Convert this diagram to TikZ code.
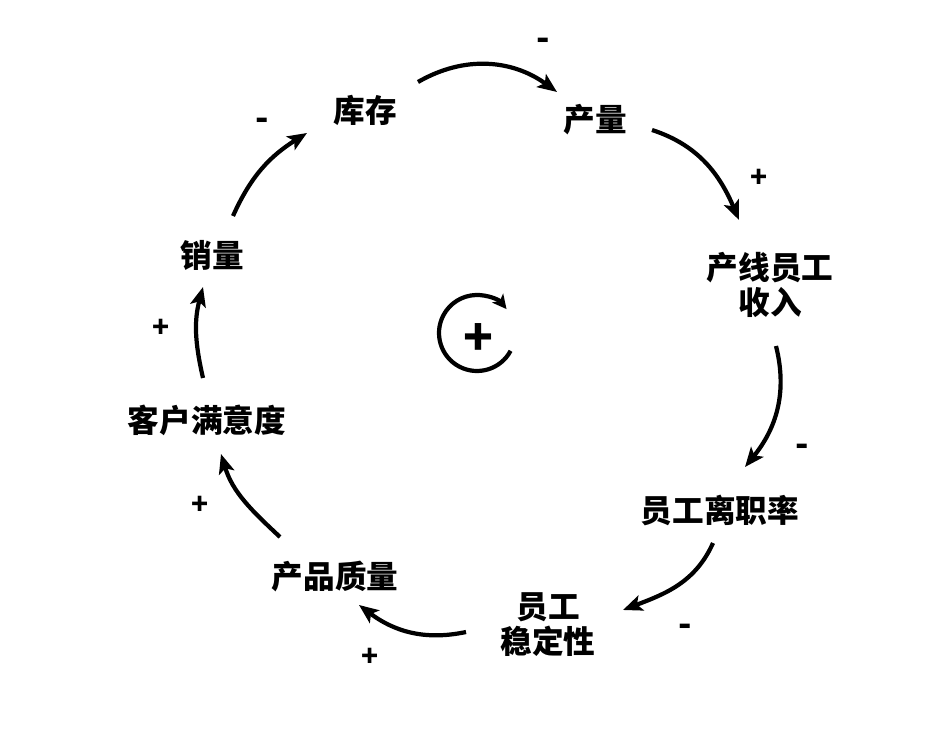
\documentclass[tikz,border=0pt]{standalone}
\usepackage{fontspec}
\setmainfont{Noto Sans CJK SC}
\usetikzlibrary{arrows.meta, calc}

\begin{document}
\begin{tikzpicture}[font=\fontsize{18}{20}\selectfont\bfseries,
  lbl/.style={align=center, inner sep=2pt},
  link/.style={line width=2.4pt, -{Stealth[length=11pt, width=9pt, inset=2.5pt]}},
  possign/.style={font=\fontsize{16}{16}\selectfont\bfseries, inner sep=0pt},
  negsign/.style={font=\fontsize{20}{20}\selectfont\bfseries, inner sep=0pt}]
  \useasboundingbox (0,0) rectangle (18.92,14.64);

  % loop variables
  \node[lbl] (kc) at (7.30, 12.44) {库存};
  \node[lbl] (cl) at (11.90, 12.24) {产量};
  \node[lbl] (sr) at (15.40, 8.94) {产线员工\\收入};
  \node[lbl] (lz) at (14.40, 4.44) {员工离职率};
  \node[lbl] (wd) at (10.96, 2.14) {员工\\稳定性};
  \node[lbl] (zl) at (6.70, 3.10) {产品质量};
  \node[lbl] (my) at (4.14, 6.24) {客户满意度};
  \node[lbl] (xl) at (4.24, 9.54) {销量};

  % causal links
  \draw[link] ($(kc)+(1.06,0.56)$) to[out=30, in=144] ($(cl)+(-0.76,0.56)$);
  \draw[link] ($(cl)+(1.14,-0.20)$) to[out=-18, in=113] ($(sr)+(-0.62,1.30)$);
  \draw[link] ($(sr)+(0.12,-1.22)$) to[out=-76, in=51] ($(lz)+(0.50,0.86)$);
  \draw[link] ($(lz)+(-0.14,-0.66)$) to[out=-114, in=21] ($(wd)+(1.50,0.30)$);
  \draw[link] ($(wd)+(-1.64,-0.14)$) to[out=192, in=-37] ($(zl)+(0.48,-0.56)$);
  \draw[link] ($(zl)+(-1.10,0.80)$) to[out=137, in=-73] ($(my)+(0.28,-0.68)$);
  \draw[link] ($(my)+(-0.08,0.84)$) to[out=103, in=255] ($(xl)+(-0.18,-0.64)$);
  \draw[link] ($(xl)+(0.42,0.78)$) to[out=66, in=212] ($(kc)+(-1.16,-0.46)$);

  % polarities
  \node[negsign] (s1) at (10.86, 13.76) {-};
  \node[possign] (s2) at (15.18, 11.08) {+};
  \node[negsign] (s3) at (16.04, 5.64) {-};
  \node[negsign] (s4) at (13.70, 2.04) {-};
  \node[possign] (s5) at (7.40, 1.50) {+};
  \node[possign] (s6) at (4.00, 4.54) {+};
  \node[possign] (s7) at (3.22, 8.08) {+};
  \node[negsign] (s8) at (5.24, 12.16) {-};

  % reinforcing loop mark
  \coordinate (lp) at (9.54, 7.98);
  \node[font=\fontsize{28}{28}\selectfont\bfseries, inner sep=0pt] (pl) at (9.56, 7.84) {+};
  \draw[line width=2.4pt, -{Stealth[length=8pt, width=8pt, inset=2pt]}]
    ($(lp)+(-28:0.76)$) arc[start angle=-28, end angle=-321, radius=0.76];
\end{tikzpicture}
\end{document}
